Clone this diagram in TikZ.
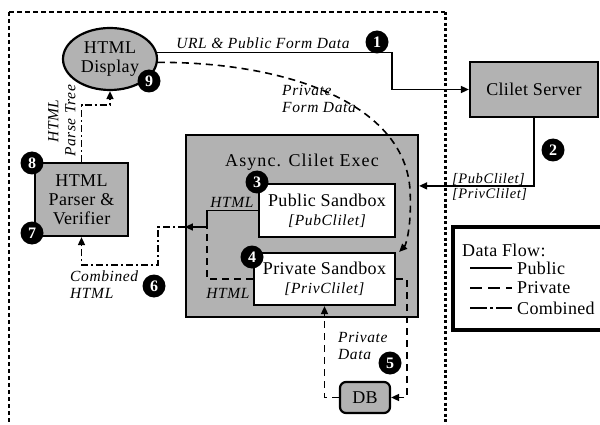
\documentclass[tikz,border=0pt]{standalone}
\usepackage{fontspec}
\setmainfont{Liberation Serif}[LetterSpace=2]
\newfontfamily\titlefont{Liberation Serif}[LetterSpace=6]
\newfontfamily\labfont{Liberation Serif}[LetterSpace=4]
\usetikzlibrary{shapes.geometric,arrows.meta}
\begin{document}
\begin{tikzpicture}[x=1pt,y=-1pt,
 box/.style={draw,line width=2.2pt,fill=gray!60,inner sep=0pt,font=\fontsize{18}{19}\selectfont,align=center},
 wbox/.style={box,fill=white},
 num/.style={circle,fill=black,text=white,font=\fontsize{16}{16}\selectfont\bfseries,inner sep=0pt,minimum size=23pt},
 lab/.style={font=\labfont\fontsize{15.5}{17}\selectfont\itshape,inner sep=0pt},
 pubL/.style={line width=1.6pt},
 privL/.style={line width=1.6pt,dash pattern=on 7pt off 5pt},
 combL/.style={line width=1.6pt,dash pattern=on 7pt off 3pt on 2pt off 3pt},
 arr/.style={-{Triangle[length=8pt,width=7pt]}}
]
\useasboundingbox (0,0) rectangle (600,425);
% trust boundary
\draw[line width=2pt,dash pattern=on 5pt off 3pt] (9,12) -- (445,12);
\draw[line width=2.5pt,dash pattern=on 4pt off 3pt] (9,12) -- (9,425);
\draw[line width=3pt,dash pattern=on 3pt off 2.5pt] (445,12) -- (445,425);

% nodes
\node[box,ellipse,minimum width=94pt,minimum height=62pt] (disp) at (110,59) {HTML\\Display};
\node[box,minimum width=128pt,minimum height=55pt] (srv) at (534,89.5) {Clilet Server};
\node[box,minimum width=232pt,minimum height=182pt] (async) at (302,226) {};
\node[font=\titlefont\fontsize{18}{19}\selectfont] (atitle) at (302,162) {Async. Clilet Exec};
\node[wbox,minimum width=136pt,minimum height=53pt] (pub) at (327,210.5) {Public Sandbox\\{\labfont\itshape\fontsize{15.5}{17}\selectfont [PubClilet]}};
\node[wbox,minimum width=141pt,minimum height=52pt] (priv) at (324.5,279) {Private Sandbox\\{\labfont\itshape\fontsize{15.5}{17}\selectfont [PrivClilet]}};
\node[box,minimum width=93pt,minimum height=73pt] (parser) at (81.5,199.5) {HTML\\Parser \&\\Verifier};
\node[box,rounded corners=6pt,minimum width=50pt,minimum height=31pt] (db) at (365,397.5) {DB};

% helper coordinates
\coordinate (k1) at (392,55);
\path (async.north east) ++(0,52) coordinate (a2);
\coordinate (m) at (207,227);
\coordinate (c6) at (158,265);
\coordinate (p7) at (110,105);
\coordinate (r8) at (407,397.5);

% connectors
\draw[pubL,arr] (disp.8) -- (disp.8 -| k1) |- (srv.west);
\draw[pubL,arr] (srv.south) |- (a2);
\draw[privL,arr] (disp.-4) .. controls (290,62) and (405,105) .. (410,190) .. controls (412,225) and (406,245) .. ([xshift=3pt]priv.north east);
\draw[pubL,arr] (pub.west) -| (m) -- (async.west |- m);
\draw[privL] (priv.west) -| (m);
\draw[combL,arr] (async.west |- m) -| (c6) -| (parser.south);
\draw[combL,arr] (parser.north) |- (p7) -- (disp.south);
\draw[privL,arr] (priv.east) -| (r8) -- (db.east);
\draw[privL,arr] (db.west) -| (priv.south);

% labels
\node[lab] (l1) at (263,43) {URL \& Public Form Data};
\node[lab,align=left,anchor=west] (l2) at (282,99) {Private\\Form Data};
\node[lab,align=left,anchor=west,font=\labfont\fontsize{14.5}{15}\selectfont\itshape] (l3) at (452,186.5) {{[PubClilet]}\\{[PrivClilet]}};
\node[lab] (l4) at (232,202) {HTML};
\node[lab] (l5) at (228,293) {HTML};
\node[lab,align=left,anchor=west] (l6) at (70,284.5) {Combined\\HTML};
\node[lab,align=center,rotate=90] (l7) at (62,121) {HTML\\Parse Tree};
\node[lab,align=left,anchor=west] (l8) at (338,345.5) {Private\\Data};

% numbers
\node[num] (n1) at (377,42) {1};
\node[num] (n2) at (553,150) {2};
\node[num] (n3) at (257,182) {3};
\node[num] (n4) at (252,257) {4};
\node[num] (n5) at (390,363) {5};
\node[num] (n6) at (154,286) {6};
\node[num] (n7) at (32,233) {7};
\node[num] (n8) at (32,163) {8};
\node[num] (n9) at (149,81) {9};

% legend
\draw[line width=4.5pt] (453,227) rectangle (606,330);
\node[anchor=west,font=\fontsize{18}{19}\selectfont,inner sep=0pt] (lt) at (462,250) {Data Flow:};
\draw[pubL] (470,268) -- (512,268);
\draw[privL,dash pattern=on 12pt off 6pt] (470,288) -- (512,288);
\draw[combL,dash pattern=on 17pt off 3pt on 3pt off 3pt on 20pt] (470,308) -- (512,308);
\node[anchor=west,font=\fontsize{18}{19}\selectfont,inner sep=0pt] (lg1) at (517,268) {Public};
\node[anchor=west,font=\fontsize{18}{19}\selectfont,inner sep=0pt] (lg2) at (517,288) {Private};
\node[anchor=west,font=\fontsize{18}{19}\selectfont,inner sep=0pt] (lg3) at (517,308) {Combined};
\end{tikzpicture}
\end{document}
